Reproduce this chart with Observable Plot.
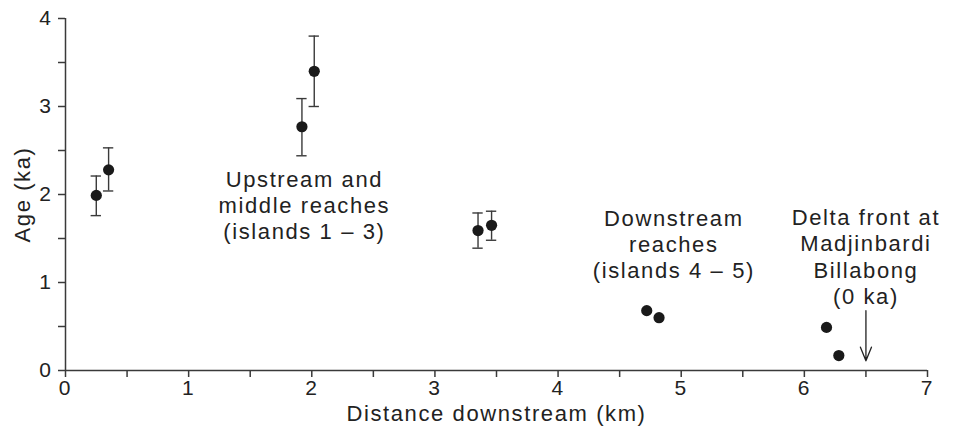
<!DOCTYPE html>
<html><head><meta charset="utf-8">
<script src="https://cdn.jsdelivr.net/npm/d3@7"></script>
<script src="https://cdn.jsdelivr.net/npm/@observablehq/plot@0.6"></script>
<style>
body{margin:0;background:#fff}
#chart svg text{letter-spacing:1.6px}
#chart svg g[aria-label$="tick label"]{font-size:21px}
</style></head><body><div id="chart"></div>
<script>
// Sample data (distance downstream in km, age in ka, error bounds)
const distance = [0.25, 0.35, 1.92, 2.02, 3.35, 3.46, 4.72, 4.82, 6.18, 6.28];
const age      = [1.99, 2.28, 2.77, 3.40, 1.59, 1.65, 0.68, 0.60, 0.49, 0.17];
const errLow   = [1.76, 2.04, 2.44, 3.00, 1.39, 1.48, null, null, null, null];
const errHigh  = [2.21, 2.53, 3.09, 3.80, 1.79, 1.81, null, null, null, null];

// Axis ticks
const xTicks = [0, 0.5, 1, 1.5, 2, 2.5, 3, 3.5, 4, 4.5, 5, 5.5, 6, 6.5, 7];
const yTicks = [0, 0.5, 1, 1.5, 2, 2.5, 3, 3.5, 4];
const xLabel = "Distance downstream (km)";
const yLabel = "Age (ka)";

// Annotations
const labelText = ["Upstream and\nmiddle reaches\n(islands 1 – 3)", "Downstream\nreaches\n(islands 4 – 5)", "Delta front at\nMadjinbardi\nBillabong\n(0 ka)"];
const labelX = [1.94, 4.94, 6.5];
const labelY = [1.886, 1.44, 1.30];

// Arrow marking the delta front
const arrowX = [6.5];
const arrowTop = [0.68];
const arrowBottom = [0.11];

const pts = distance.map((x, i) => ({x, age: age[i], lo: errLow[i], hi: errHigh[i]}));
const bars = pts.filter(d => d.lo != null);
const labels = labelText.map((t, i) => ({t, x: labelX[i], y: labelY[i]}));
const arrows = arrowX.map((x, i) => ({x, y1: arrowTop[i], y2: arrowBottom[i]}));
const capHalf = 0.042;
const ink = "#3a3a3a";

const chart = Plot.plot({
  width: 955, height: 426,
  marginLeft: 65, marginRight: 28, marginTop: 18, marginBottom: 56,
  style: {fontFamily: "'Liberation Sans', Arial, sans-serif", fontSize: "20px", color: "#222", background: "#fff"},
  x: {domain: [0, 7]},
  y: {domain: [0, 4]},
  marks: [
    Plot.axisX({ticks: xTicks, tickFormat: d => Number.isInteger(d) ? String(d) : "", tickSize: 7, tickPadding: 3, label: null, stroke: ink, strokeWidth: 1.5}),
    Plot.axisY({ticks: yTicks, tickFormat: d => Number.isInteger(d) ? String(d) : "", tickSize: 7, tickPadding: 6, label: null, stroke: ink, strokeWidth: 1.5}),
    Plot.ruleY([0], {stroke: ink, strokeWidth: 1.5}),
    Plot.ruleX([0], {stroke: ink, strokeWidth: 1.5}),
    Plot.text([xLabel], {frameAnchor: "bottom", dy: 43, text: d => d, fontSize: 22, fill: "#222", textAnchor: "middle", lineAnchor: "middle"}),
    Plot.text([yLabel], {frameAnchor: "left", dx: -43, rotate: -90, text: d => d, fontSize: 22, fill: "#222", textAnchor: "middle", lineAnchor: "middle"}),
    Plot.ruleX(bars, {x: "x", y1: "lo", y2: "hi", stroke: ink, strokeWidth: 1.4}),
    Plot.ruleY(bars, {y: "lo", x1: d => d.x - capHalf, x2: d => d.x + capHalf, stroke: ink, strokeWidth: 1.4}),
    Plot.ruleY(bars, {y: "hi", x1: d => d.x - capHalf, x2: d => d.x + capHalf, stroke: ink, strokeWidth: 1.4}),
    Plot.dot(pts, {x: "x", y: "age", r: 5.6, fill: "#1a1a1a", stroke: "none"}),
    Plot.arrow(arrows, {x1: "x", y1: "y1", x2: "x", y2: "y2", headLength: 17, headAngle: 44, stroke: "#222", strokeWidth: 1.3}),
    Plot.text(labels, {x: "x", y: "y", text: "t", fontSize: 22, lineHeight: 1.19, fill: "#222", textAnchor: "middle", lineAnchor: "middle"})
  ]
});
document.getElementById("chart").append(chart);
</script></body></html>
